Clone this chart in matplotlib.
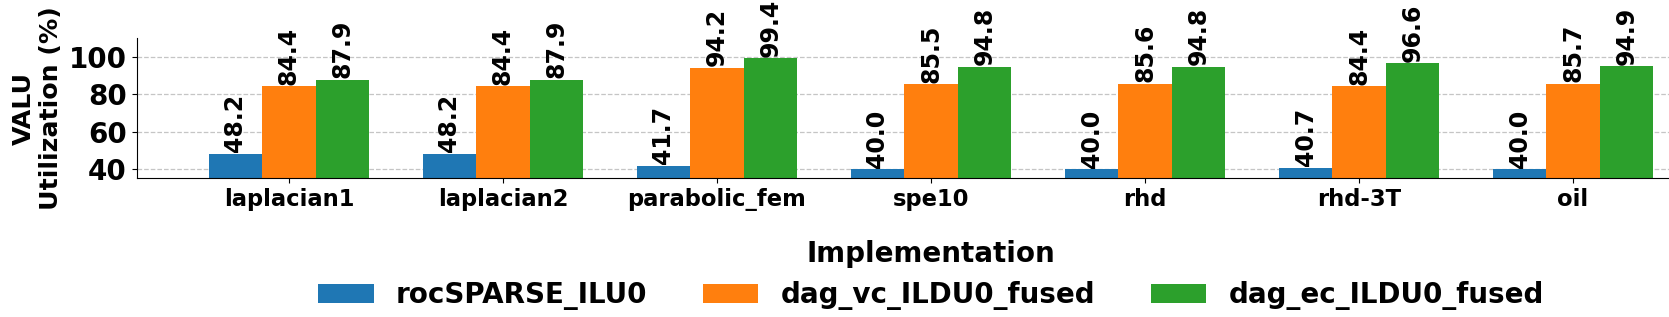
import matplotlib
matplotlib.use("Agg")
import matplotlib.pyplot as plt
import numpy as np

categories = ["laplacian1", "laplacian2", "parabolic_fem", "spe10", "rhd", "rhd-3T", "oil"]
series_names = ["rocSPARSE_ILU0", "dag_vc_ILDU0_fused", "dag_ec_ILDU0_fused"]
roc_vals = [48.2, 48.2, 41.7, 40.0, 40.0, 40.7, 40.0]
vc_vals = [84.4, 84.4, 94.2, 85.5, 85.6, 84.4, 85.7]
ec_vals = [87.9, 87.9, 99.4, 94.8, 94.8, 96.6, 94.9]
colors = ["#1f77b4", "#ff7f0e", "#2ca02c"]
yticks = [40, 60, 80, 100]

fig = plt.figure(figsize=(16.69, 3.17), dpi=100)
ax = fig.add_axes([136.5 / 1669, 1 - 178.3 / 317, (1725.5 - 136.5) / 1669, 140 / 317])

x = np.arange(len(categories))
width = 0.25
for i, (name, vals) in enumerate(zip(series_names, [roc_vals, vc_vals, ec_vals])):
    bars = ax.bar(x + (i - 1) * width, vals, width, label=name, color=colors[i])
    ax.bar_label(bars, fmt="%.1f", rotation=90, fontsize=17, fontweight="bold", padding=1)

ax.set_ylim(35, 110)
ax.set_yticks(yticks)
ax.set_xticks(x)
ax.set_xticklabels(categories, fontsize=16.3, fontweight="bold")
for lab in ax.get_yticklabels():
    lab.set_fontsize(20)
    lab.set_fontweight("bold")

ax.set_axisbelow(True)
ax.yaxis.grid(True, linestyle="--", color="#bfbfbf", linewidth=0.9, alpha=0.9)
ax.spines["top"].set_visible(False)
ax.spines["right"].set_visible(False)

ax.set_ylabel("VALU\nUtilization (%)", fontsize=18.2, fontweight="bold")
ax.set_xlabel("Implementation", fontsize=20, fontweight="bold", labelpad=21)

ax.legend(loc="center", bbox_to_anchor=(0.5, -0.84), ncol=3, frameon=False,
          prop={"size": 20, "weight": "bold"})

fig.savefig("out.png", dpi=100)
